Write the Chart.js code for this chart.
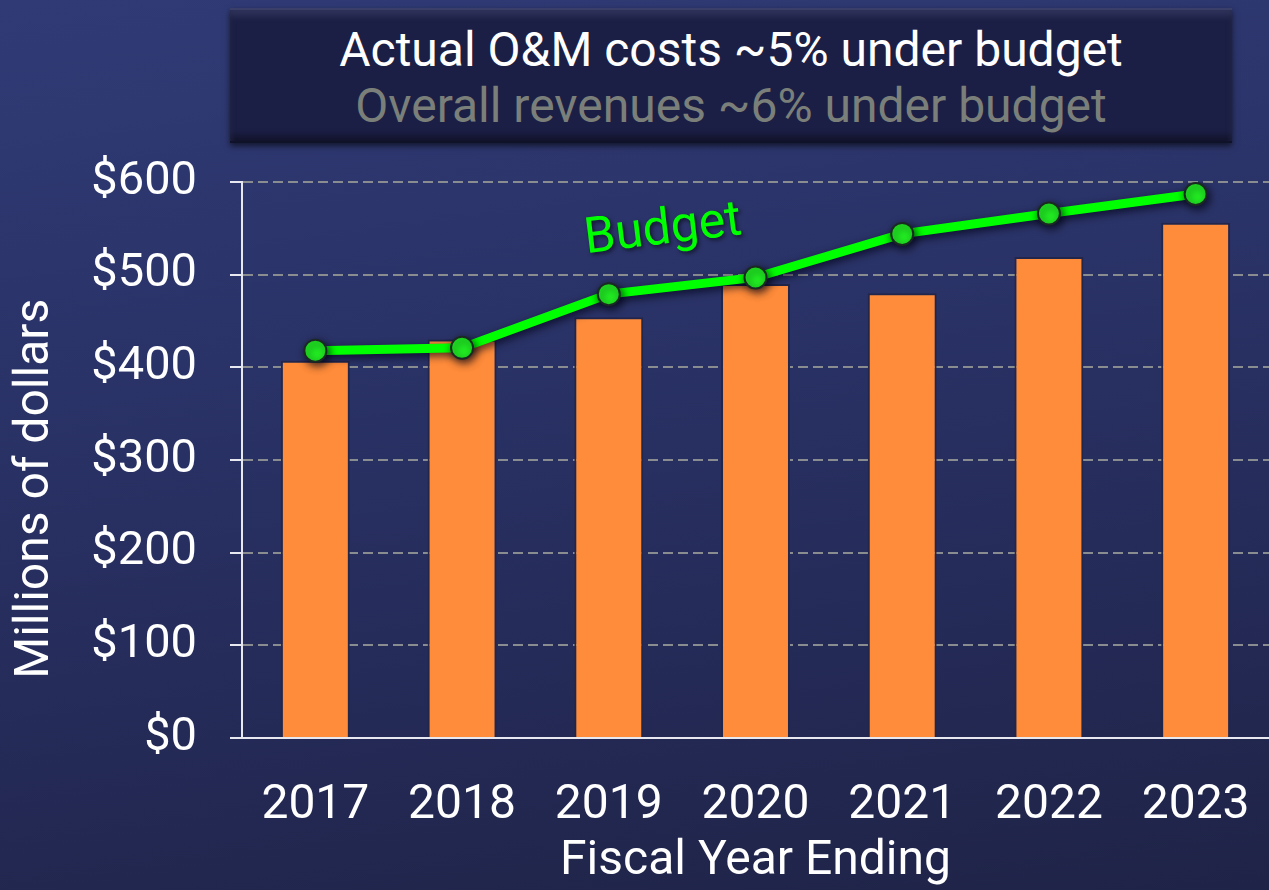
<!DOCTYPE html>
<html>
<head>
<meta charset="utf-8">
<script src="https://cdn.jsdelivr.net/npm/chart.js@4"></script>
<style>
  html, body { margin: 0; padding: 0; }
  body {
    width: 1269px; height: 890px; overflow: hidden; position: relative;
    background: linear-gradient(172deg, #303b76 0%, #283062 50%, #1f2347 100%);
    font-family: Roboto, sans-serif;
  }
  #titlebox {
    position: absolute; left: 230px; top: 8px; width: 1002px; height: 135px;
    box-sizing: border-box; background: #1c1f45;
    border-top: 2px solid #3a3f6a; border-bottom: 2px solid #10122a;
    box-shadow: 0 3px 6px rgba(0,0,0,0.6), inset 0 6px 6px rgba(80,85,130,0.35), inset 0 -6px 6px rgba(0,0,0,0.35);
    text-align: center; color: #fff; font-size: 48px; line-height: 56px; padding-top: 12px;
  }
  #titlebox .l2 { color: #7b7f79; }
  #wrap { position: absolute; left: 0; top: 0; width: 1269px; height: 890px; }
</style>
</head>
<body>
<div id="titlebox">
  <div>Actual O&amp;M costs ~5% under budget</div>
  <div class="l2">Overall revenues ~6% under budget</div>
</div>
<div id="wrap"><canvas id="chart"></canvas></div>
<script>
const years = ['2017', '2018', '2019', '2020', '2021', '2022', '2023']
const actual = [407, 430, 454, 490, 480, 519, 556]
const budget = [418, 421, 479, 497, 544, 566, 587]
const yTicks = [0, 100, 200, 300, 400, 500, 600]

// shadow under the budget line and dots
const lineShadow = {
    id: 'lineShadow',
    beforeDatasetDraw(chart, args) {
        if (args.index !== 1) return
        const ctx = chart.ctx
        ctx.save()
        ctx.shadowColor = 'rgba(0,0,20,0.75)'
        ctx.shadowBlur = 8
        ctx.shadowOffsetX = 2
        ctx.shadowOffsetY = 3
    },
    afterDatasetDraw(chart, args) {
        if (args.index !== 1) return
        chart.ctx.restore()
    }
}

// "Budget" label next to the line, and the y title (sits a bit below centre)
const extraText = {
    id: 'extraText',
    afterDatasetsDraw(chart) {
        const ctx = chart.ctx
        const x = chart.scales.x.getPixelForValue(2.37)
        const y = chart.scales.y.getPixelForValue(547)
        ctx.save()
        ctx.translate(x, y)
        ctx.rotate(-7 * Math.PI / 180)
        ctx.font = '50px Roboto'
        ctx.fillStyle = '#00ff00'
        ctx.textAlign = 'center'
        ctx.textBaseline = 'middle'
        ctx.shadowColor = 'rgba(0,0,0,0.6)'
        ctx.shadowBlur = 4
        ctx.shadowOffsetX = 2
        ctx.shadowOffsetY = 2
        ctx.fillText('Budget', 0, 0)
        ctx.restore()

        ctx.save()
        ctx.translate(36, chart.scales.y.getPixelForValue(269))
        ctx.rotate(-Math.PI / 2)
        ctx.font = '48px Roboto'
        ctx.fillStyle = '#ffffff'
        ctx.textAlign = 'center'
        ctx.textBaseline = 'middle'
        ctx.fillText('Millions of dollars', 0, 0)
        ctx.restore()
    }
}

Chart.defaults.font.family = 'Roboto'
Chart.defaults.color = '#ffffff'

new Chart(document.getElementById('chart'), {
    type: 'bar',
    data: {
        labels: years,
        datasets: [{
            label: 'Actual',
            data: actual,
            backgroundColor: '#ff8c3b',
            borderColor: '#22264a',
            borderWidth: 2,
            borderSkipped: 'bottom',
            barPercentage: 0.47,
            categoryPercentage: 1,
            order: 1
        }, {
            type: 'line',
            label: 'Budget',
            data: budget,
            borderColor: '#00ff00',
            borderWidth: 9,
            pointRadius: 11,
            pointBackgroundColor: '#22f022',
            pointBorderColor: '#1a2a22',
            pointBorderWidth: 2,
            tension: 0,
            order: 0
        }]
    },
    options: {
        responsive: true,
        maintainAspectRatio: false,
        animation: false,
        layout: { autoPadding: false, padding: { top: 182, left: 0, right: 0, bottom: 0 } },
        plugins: { legend: { display: false }, tooltip: { enabled: false } },
        scales: {
            x: {
                afterFit(scale) { scale.height = 152 },
                // invisible tick marks push the labels down without adding side padding
                grid: { display: true, drawOnChartArea: false, drawTicks: true, tickLength: 25, tickColor: 'rgba(0,0,0,0)' },
                border: { display: true, color: '#e8e8f0', width: 2 },
                ticks: { color: '#ffffff', font: { size: 48 }, padding: 14, maxRotation: 0 },
                title: { display: true, text: 'Fiscal Year Ending', color: '#ffffff', font: { size: 48, lineHeight: 1 }, padding: { top: 0, bottom: 4 } }
            },
            y: {
                min: 0,
                max: 600,
                afterFit(scale) { scale.width = 242 },
                afterBuildTicks(scale) { scale.ticks = yTicks.map(v => ({ value: v })) },
                grid: { color: '#8a8d90', lineWidth: 2, tickLength: 12, tickColor: '#e8e8f0', tickBorderDash: [] },
                border: { display: true, color: '#e8e8f0', width: 2, dash: [10, 5] },
                ticks: {
                    color: '#ffffff', font: { size: 47 }, padding: 33,
                    callback: v => '$' + v
                },
                title: { display: false }
            }
        }
    },
    plugins: [lineShadow, extraText]
})
</script>
</body>
</html>
